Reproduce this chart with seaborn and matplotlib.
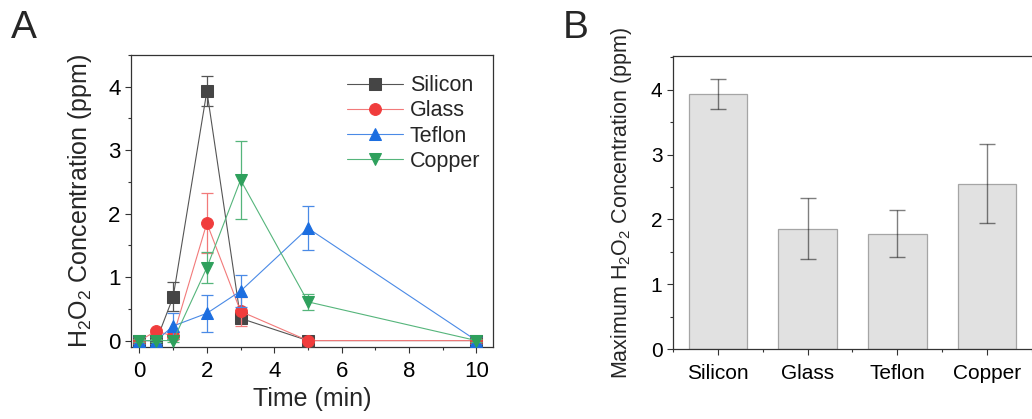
import numpy as np
import pandas as pd
import matplotlib
matplotlib.use("Agg")
import matplotlib.pyplot as plt
from matplotlib.ticker import MultipleLocator
import seaborn as sns

# ---------------- data ----------------
times = [0, 0.5, 1, 2, 3, 5, 10]
silicon = [0.0, 0.0, 0.69, 3.93, 0.35, 0.0, 0.0]
silicon_err = [0.03, 0.03, 0.23, 0.23, 0.06, 0.02, 0.02]
glass = [0.0, 0.15, 0.07, 1.85, 0.46, 0.0, 0.0]
glass_err = [0.03, 0.03, 0.05, 0.47, 0.23, 0.02, 0.02]
teflon = [0.0, 0.0, 0.23, 0.43, 0.78, 1.77, 0.0]
teflon_err = [0.06, 0.06, 0.2, 0.29, 0.25, 0.35, 0.05]
copper = [0.0, 0.0, 0.0, 1.15, 2.53, 0.61, 0.0]
copper_err = [0.02, 0.02, 0.03, 0.24, 0.61, 0.13, 0.02]

materials = ["Silicon", "Glass", "Teflon", "Copper"]
max_conc = [3.94, 1.86, 1.78, 2.55]
max_err = [0.23, 0.47, 0.36, 0.61]

# ---------------- style ----------------
sns.set_style("ticks")
plt.rcParams["font.family"] = ["Liberation Sans", "DejaVu Sans"]
plt.rcParams["mathtext.default"] = "regular"
plt.rcParams["axes.edgecolor"] = "#333333"
plt.rcParams["xtick.color"] = "#333333"
plt.rcParams["ytick.color"] = "#333333"
plt.rcParams["xtick.labelcolor"] = "black"
plt.rcParams["ytick.labelcolor"] = "black"

fig = plt.figure(figsize=(10.32, 4.19), dpi=100)
axA = fig.add_axes([0.127, 0.172, 0.351, 0.697])
axB = fig.add_axes([0.652, 0.167, 0.348, 0.699])

series = [
    ("Silicon", silicon, silicon_err, "s", "#454545", "#555555"),
    ("Glass", glass, glass_err, "o", "#f03c3c", "#f27a7a"),
    ("Teflon", teflon, teflon_err, "^", "#1c6ee0", "#4a8ae6"),
    ("Copper", copper, copper_err, "v", "#2ea05c", "#55b57b"),
]

for i, (name, vals, errs, mk, mcol, lcol) in enumerate(series):
    df = pd.DataFrame({"t": times, "c": vals})
    axA.errorbar(times, vals, yerr=errs, fmt="none", ecolor=lcol, elinewidth=0.9,
                 capsize=4, capthick=0.9, zorder=2 + i * 2)
    sns.lineplot(data=df, x="t", y="c", ax=axA, color=lcol, linewidth=0.8,
                 marker=mk, markersize=8.5, markerfacecolor=mcol,
                 markeredgecolor=mcol, label=name, zorder=3 + i * 2)

axA.set_xlim(-0.25, 10.5)
axA.set_ylim(-0.1, 4.5)
axA.xaxis.set_major_locator(MultipleLocator(2))
axA.xaxis.set_minor_locator(MultipleLocator(1))
axA.yaxis.set_major_locator(MultipleLocator(1))
axA.yaxis.set_minor_locator(MultipleLocator(0.5))
axA.tick_params(axis="both", which="major", labelsize=16, length=4, width=0.8)
axA.tick_params(axis="x", which="major", pad=6)
axA.tick_params(axis="both", which="minor", length=2.5, width=0.8)
axA.set_xlabel("Time (min)", fontsize=18, labelpad=4)
axA.set_ylabel("H$_2$O$_2$ Concentration (ppm)", fontsize=18, labelpad=10)
for s in axA.spines.values():
    s.set_linewidth(0.9)
axA.legend(loc="upper right", frameon=False, fontsize=15.5, handlelength=2.6,
           handletextpad=0.3, labelspacing=0.2, borderaxespad=0.2,
           bbox_to_anchor=(1.0, 0.975))

# ---------------- panel B ----------------
dfB = pd.DataFrame({"material": materials, "value": max_conc})
sns.barplot(data=dfB, x="material", y="value", ax=axB, color="#e1e1e1",
            saturation=1, width=0.65, edgecolor="#a5a5a5", linewidth=0.9,
            errorbar=None)
axB.errorbar(np.arange(len(materials)), max_conc, yerr=max_err, fmt="none",
             ecolor="#000000", alpha=0.5, elinewidth=1.0, capsize=5.5, capthick=1.0,
             zorder=5)
axB.set_xlim(-0.5, 3.5)
axB.set_ylim(0, 4.52)
axB.yaxis.set_major_locator(MultipleLocator(1))
axB.yaxis.set_minor_locator(MultipleLocator(0.5))
axB.set_xticks(np.arange(-0.5, 3.6, 1.0), minor=True)
axB.tick_params(axis="both", which="major", labelsize=15, length=4, width=0.8)
axB.tick_params(axis="x", which="major", pad=7)
axB.tick_params(axis="both", which="minor", length=2.5, width=0.8)
axB.set_xlabel("")
axB.set_ylabel("Maximum H$_2$O$_2$ Concentration (ppm)", fontsize=15.5, labelpad=12)
axB.spines["right"].set_visible(False)
for s in axB.spines.values():
    s.set_linewidth(0.9)

fig.text(0.011, 0.91, "A", fontsize=28)
fig.text(0.545, 0.91, "B", fontsize=28)

fig.savefig("out.png", dpi=100)
